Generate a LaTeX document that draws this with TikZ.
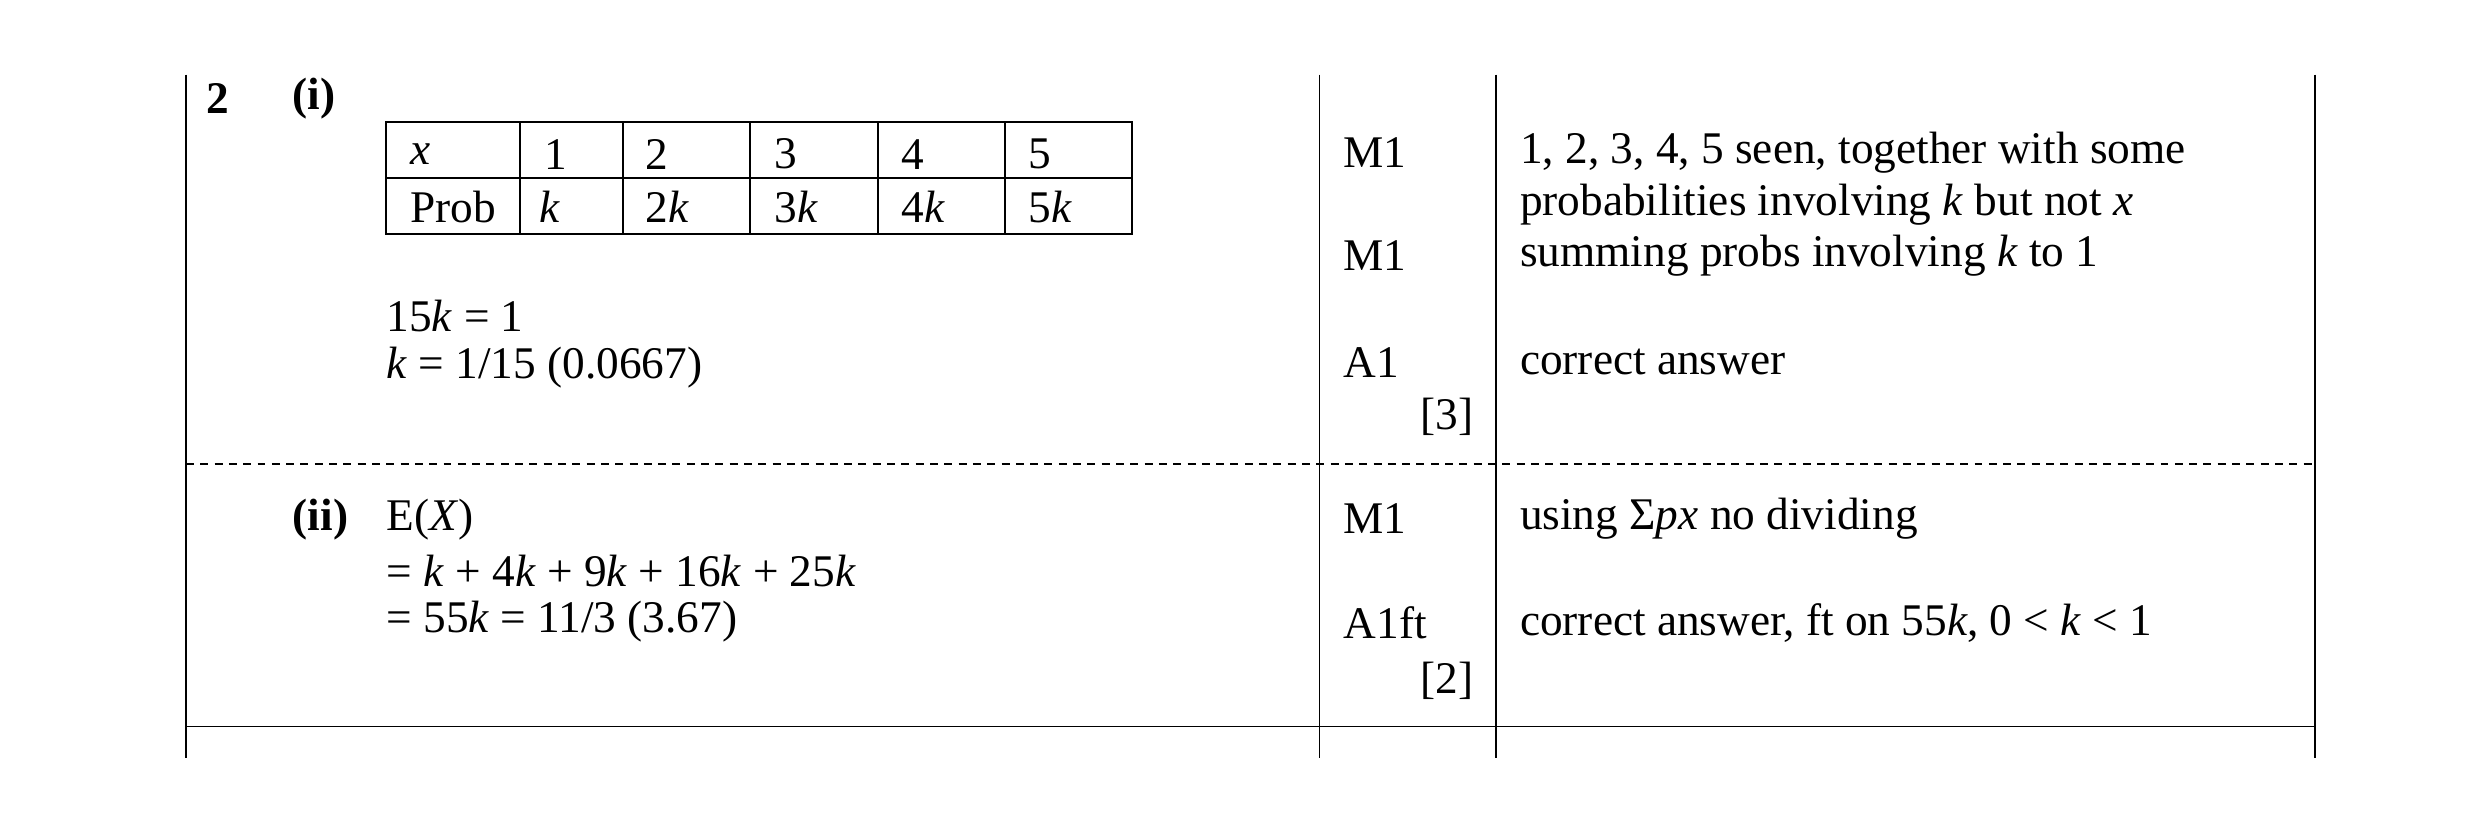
\documentclass[tikz,border=0pt]{standalone}
\usepackage{fontspec}
\setmainfont{Liberation Serif}
\begin{document}
\begin{tikzpicture}[x=1bp,y=-1bp,
  t/.style={anchor=west,inner sep=0pt,font=\fontsize{28.6}{32}\selectfont},
  r/.style={anchor=east,inner sep=0pt,font=\fontsize{28.6}{32}\selectfont},
  ln/.style={line width=1.2bp}]
\useasboundingbox (0,0) rectangle (1560,521.5);
\foreach \x in {117,830,941,1456} \draw[ln] (\x,47) -- (\x,477);
\draw[ln,dashed,dash pattern=on 5bp off 4bp] (117,292) -- (1456,292);
\draw[ln] (117,457) -- (1456,457);
% table
\draw[ln] (243,77) rectangle (712,147);
\draw[ln] (243,112) -- (712,112);
\foreach \x in {327,392,472,552,632} \draw[ln] (\x,77) -- (\x,147);
\node[t] at (258,97) {\textit{x}};
\node[t] at (342,97) {1};
\node[t] at (406,97) {2};
\node[t] at (487,97) {3};
\node[t] at (567,97) {4};
\node[t] at (647,97) {5};
\node[t] at (258,130) {Prob};
\node[t] at (339,130) {\textit{k}};
\node[t] at (406,130) {2\textit{k}};
\node[t] at (487,130) {3\textit{k}};
\node[t] at (567,130) {4\textit{k}};
\node[t] at (647,130) {5\textit{k}};
\node[t] at (130,62) {\textbf{2}};
\node[t] at (184,62) {\textbf{(i)}};
\node[t] at (243,199) {15\textit{k} = 1};
\node[t] at (243,231) {\textit{k} = 1/15 (0.0667)};
\node[t] at (845,96) {M1};
\node[t] at (845,161) {M1};
\node[t] at (845,228) {A1};
\node[r] at (927,262) {[3]};
\node[t] at (956,96) {1, 2, 3, 4, 5 seen, together with some};
\node[t] at (956,129) {probabilities involving \textit{k} but not \textit{x}};
\node[t] at (956,161) {summing probs involving \textit{k} to 1};
\node[t] at (956,228) {correct answer};
\node[t] at (184,327) {\textbf{(ii)}};
\node[t] at (243,327) {E(\textit{X})};
\node[t] at (243,359) {= \textit{k} + 4\textit{k} + 9\textit{k} + 16\textit{k} + 25\textit{k}};
\node[t] at (243,391) {= 55\textit{k} = 11/3 (3.67)};
\node[t] at (845,326) {M1};
\node[t] at (845,392) {A1ft};
\node[r] at (927,428) {[2]};
\node[t] at (956,326) {using Σ\textit{px} no dividing};
\node[t] at (956,392) {correct answer, ft on 55\textit{k}, 0 {<} \textit{k} {<} 1};
\end{tikzpicture}
\end{document}
